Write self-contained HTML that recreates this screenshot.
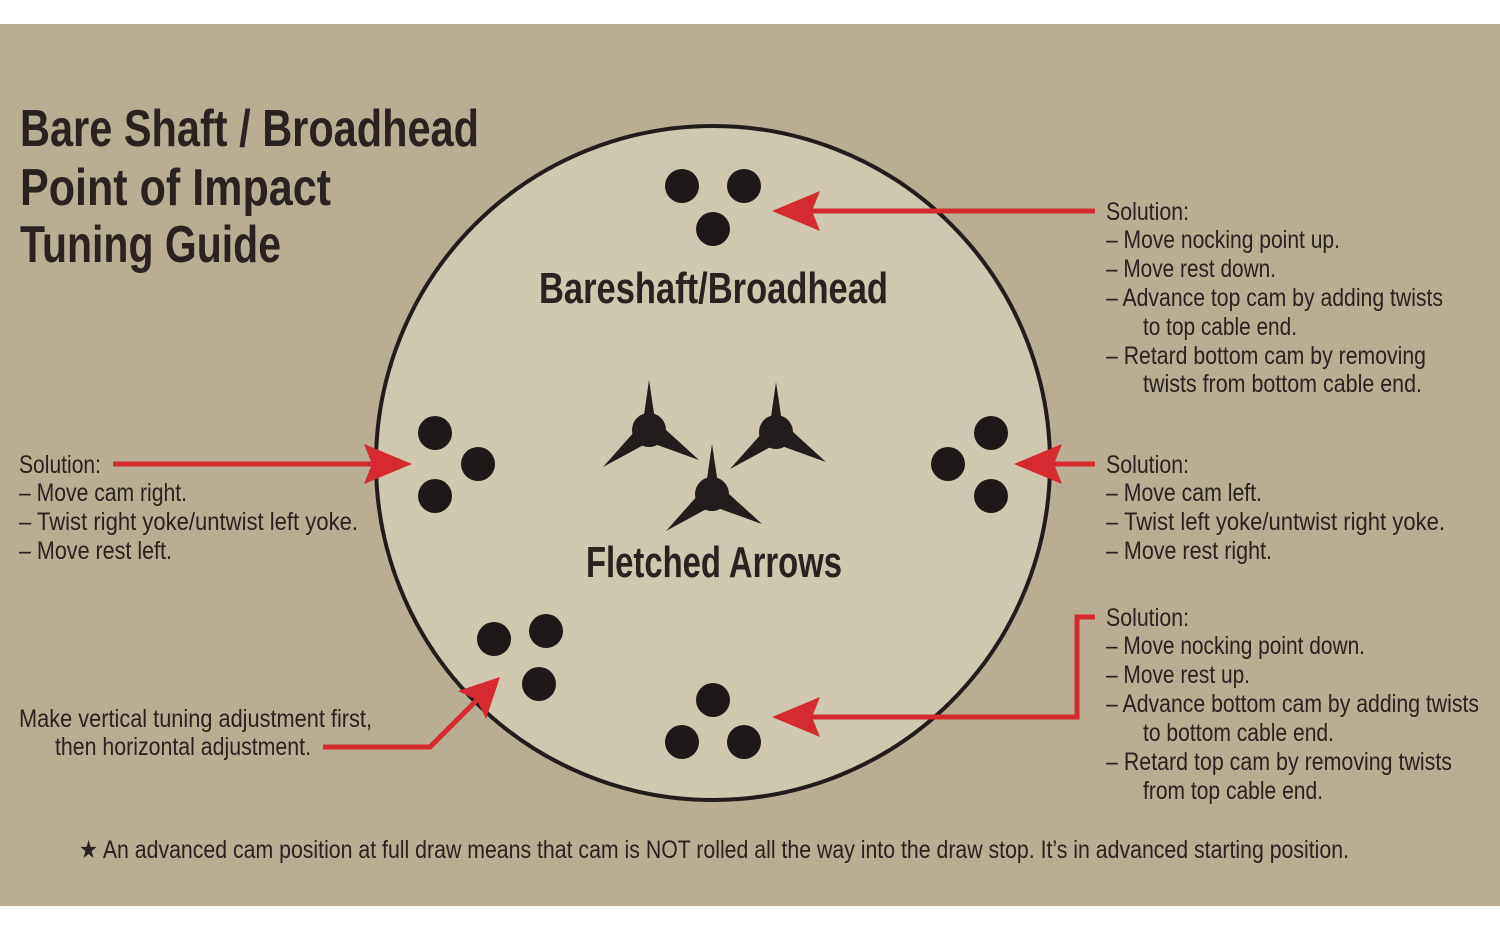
<!DOCTYPE html>
<html><head><meta charset="utf-8"><style>
html,body{margin:0;padding:0;background:#fff;}
svg{display:block;}
text{font-family:"Liberation Sans Narrow","Liberation Sans",sans-serif;fill:#2a2220;}
.b{font-size:25px;}
.t{font-size:52px;font-weight:bold;}
.m{font-size:44px;font-weight:bold;}
</style></head><body>
<svg width="1500" height="938" viewBox="0 0 1500 938" xmlns="http://www.w3.org/2000/svg">
<defs>
<g id="fl">
<polygon points="0,-50 6,-10 50,30 0,12 -46,37 -6,-8" fill="#231c1c"/>
<circle cx="0" cy="0" r="17" fill="#231c1c"/>
</g>
</defs>
<rect x="0" y="24" width="1500" height="882" fill="#b9ad94"/>
<circle cx="713" cy="463" r="337" fill="#d0c7b1" stroke="#231c1c" stroke-width="4"/>

<g fill="#1e1818">
<circle cx="682" cy="186" r="17"/><circle cx="744" cy="186" r="17"/><circle cx="713" cy="229" r="17"/>
<circle cx="435" cy="433" r="17"/><circle cx="478" cy="464" r="17"/><circle cx="435" cy="496" r="17"/>
<circle cx="991" cy="433" r="17"/><circle cx="948" cy="464" r="17"/><circle cx="991" cy="496" r="17"/>
<circle cx="494" cy="639" r="17"/><circle cx="546" cy="631" r="17"/><circle cx="539" cy="684" r="17"/>
<circle cx="713" cy="700" r="17"/><circle cx="682" cy="742" r="17"/><circle cx="744" cy="742" r="17"/>
</g>
<use href="#fl" x="649" y="430"/>
<use href="#fl" x="776" y="432"/>
<use href="#fl" x="712" y="494"/>

<g stroke="#d42a30" stroke-width="5" fill="none">
<line x1="1095" y1="211" x2="800" y2="211"/>
<line x1="113" y1="464" x2="385" y2="464"/>
<line x1="1095" y1="464" x2="1040" y2="464"/>
<polyline points="1095,617 1077,617 1077,717 800,717"/>
<polyline points="323,747 430,747 480,697"/>
</g>
<g fill="#d42a30">
<polygon points="772,211 820,191 812,211 820,231"/>
<polygon points="412,464 364,444 372,464 364,484"/>
<polygon points="1014,464 1062,444 1054,464 1062,484"/>
<polygon points="772,717 820,697 812,717 820,737"/>
<polygon points="500,677 486,719 477,700 458,691"/>
</g>

<text class="t" x="20" y="146" textLength="459" lengthAdjust="spacingAndGlyphs">Bare Shaft / Broadhead</text>
<text class="t" x="20" y="205" textLength="311" lengthAdjust="spacingAndGlyphs">Point of Impact</text>
<text class="t" x="20" y="262" textLength="261" lengthAdjust="spacingAndGlyphs">Tuning Guide</text>
<text class="m" x="539" y="303" textLength="349" lengthAdjust="spacingAndGlyphs">Bareshaft/Broadhead</text>
<text class="m" x="586" y="577" textLength="256" lengthAdjust="spacingAndGlyphs">Fletched Arrows</text>

<text class="b" x="1106" y="220" textLength="83" lengthAdjust="spacingAndGlyphs">Solution:</text>
<text class="b" x="1106" y="248" textLength="234" lengthAdjust="spacingAndGlyphs">– Move nocking point up.</text>
<text class="b" x="1106" y="277" textLength="170" lengthAdjust="spacingAndGlyphs">– Move rest down.</text>
<text class="b" x="1106" y="306" textLength="337" lengthAdjust="spacingAndGlyphs">– Advance top cam by adding twists</text>
<text class="b" x="1143" y="335" textLength="154" lengthAdjust="spacingAndGlyphs">to top cable end.</text>
<text class="b" x="1106" y="364" textLength="320" lengthAdjust="spacingAndGlyphs">– Retard bottom cam by removing</text>
<text class="b" x="1143" y="392" textLength="279" lengthAdjust="spacingAndGlyphs">twists from bottom cable end.</text>

<text class="b" x="19" y="473" textLength="82" lengthAdjust="spacingAndGlyphs">Solution:</text>
<text class="b" x="19" y="501" textLength="168" lengthAdjust="spacingAndGlyphs">– Move cam right.</text>
<text class="b" x="19" y="530" textLength="339" lengthAdjust="spacingAndGlyphs">– Twist right yoke/untwist left yoke.</text>
<text class="b" x="19" y="559" textLength="153" lengthAdjust="spacingAndGlyphs">– Move rest left.</text>

<text class="b" x="1106" y="473" textLength="83" lengthAdjust="spacingAndGlyphs">Solution:</text>
<text class="b" x="1106" y="501" textLength="156" lengthAdjust="spacingAndGlyphs">– Move cam left.</text>
<text class="b" x="1106" y="530" textLength="339" lengthAdjust="spacingAndGlyphs">– Twist left yoke/untwist right yoke.</text>
<text class="b" x="1106" y="559" textLength="166" lengthAdjust="spacingAndGlyphs">– Move rest right.</text>

<text class="b" x="1106" y="626" textLength="83" lengthAdjust="spacingAndGlyphs">Solution:</text>
<text class="b" x="1106" y="654" textLength="259" lengthAdjust="spacingAndGlyphs">– Move nocking point down.</text>
<text class="b" x="1106" y="683" textLength="144" lengthAdjust="spacingAndGlyphs">– Move rest up.</text>
<text class="b" x="1106" y="712" textLength="373" lengthAdjust="spacingAndGlyphs">– Advance bottom cam by adding twists</text>
<text class="b" x="1143" y="741" textLength="191" lengthAdjust="spacingAndGlyphs">to bottom cable end.</text>
<text class="b" x="1106" y="770" textLength="346" lengthAdjust="spacingAndGlyphs">– Retard top cam by removing twists</text>
<text class="b" x="1143" y="799" textLength="180" lengthAdjust="spacingAndGlyphs">from top cable end.</text>

<text class="b" x="19" y="727" textLength="353" lengthAdjust="spacingAndGlyphs">Make vertical tuning adjustment first,</text>
<text class="b" x="55" y="755" textLength="256" lengthAdjust="spacingAndGlyphs">then horizontal adjustment.</text>

<text class="b" x="79" y="858" textLength="1270" lengthAdjust="spacingAndGlyphs">★ An advanced cam position at full draw means that cam is NOT rolled all the way into the draw stop. It’s in advanced starting position.</text>
</svg>
</body></html>
